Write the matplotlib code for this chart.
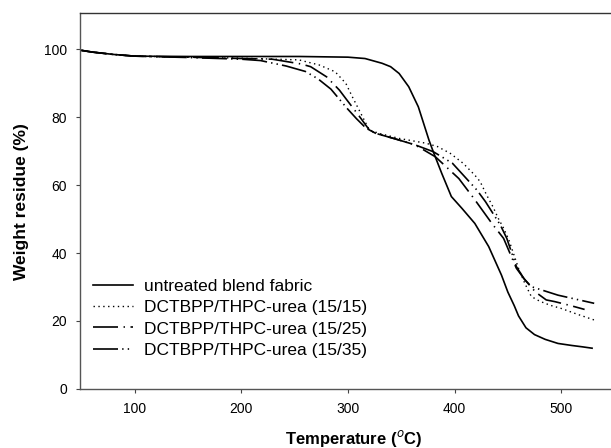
import matplotlib
matplotlib.use('Agg')
import matplotlib.pyplot as plt

plt.rcParams['font.family'] = ['Liberation Sans', 'DejaVu Sans']
plt.rcParams['lines.scale_dashes'] = False

# TGA curves (temperature in C, weight residue in %)
t_untreated = [50, 60, 80, 100, 150, 200, 254, 300, 316, 332, 340, 348, 357, 366, 376,
               380, 388, 397, 407, 419, 432, 444, 450, 456, 460, 467, 475, 485, 497, 510,
               520, 529]
w_untreated = [99.6, 99.1, 98.4, 97.9, 97.8, 97.8, 97.8, 97.6, 97.2, 95.8, 94.8, 92.8, 88.9,
               83.0, 73.2, 69.8, 63.4, 56.6, 53.1, 48.7, 41.9, 33.5, 28.5, 24.5, 21.5, 18.0,
               16.0, 14.6, 13.4, 12.8, 12.4, 12.0]

t_1515 = [50, 60, 80, 100, 150, 200, 254, 273, 288, 298, 304, 312, 320, 329, 348, 373, 384,
          396, 408, 419, 424, 430, 436, 441, 446, 451, 460, 466, 472, 480, 490, 500, 515, 531]
w_1515 = [99.6, 99.1, 98.4, 97.9, 97.6, 97.3, 96.8, 95.3, 93.3, 89.9, 86.0, 81.1, 76.2, 75.2,
          73.7, 72.3, 71.3, 69.3, 66.4, 62.9, 61.0, 57.1, 53.6, 50.2, 47.3, 43.8, 35.5, 31.0,
          27.2, 25.8, 24.6, 23.7, 22.0, 20.3]

t_1525 = [50, 60, 80, 100, 150, 200, 229, 256, 265, 280, 292, 299, 310, 320, 326, 345, 363,
          382, 404, 418, 435, 446, 458, 466, 476, 486, 494, 508, 522]
w_1525 = [99.6, 99.1, 98.4, 97.9, 97.6, 97.2, 97.0, 95.6, 94.8, 91.8, 87.9, 85.0, 80.5, 76.2,
          75.2, 73.5, 71.8, 68.3, 61.9, 56.1, 48.7, 44.3, 35.5, 32.1, 28.5, 26.2, 25.7, 24.6,
          23.4]

t_1535 = [50, 60, 80, 100, 150, 200, 218, 242, 260, 272, 284, 299, 308, 317, 326, 345, 363,
          380, 398, 421, 429, 443, 449, 458, 465, 472, 485, 497, 514, 531]
w_1535 = [99.6, 99.1, 98.4, 97.9, 97.5, 97.0, 96.6, 95.0, 93.4, 91.2, 88.2, 82.6, 79.5, 76.7,
          75.2, 73.5, 71.8, 69.8, 66.4, 58.5, 55.1, 48.2, 44.3, 36.0, 32.5, 30.1, 28.8, 27.6,
          26.4, 25.2]

labels = ['untreated blend fabric', 'DCTBPP/THPC-urea (15/15)',
          'DCTBPP/THPC-urea (15/25)', 'DCTBPP/THPC-urea (15/35)']

fig = plt.figure(figsize=(6.11, 4.48), dpi=100)
ax = fig.add_axes([0.1309, 0.1317, 0.869, 0.8386])

ax.plot(t_untreated, w_untreated, color='black', lw=1.2, label=labels[0])
ax.plot(t_1515, w_1515, color='black', lw=1.0, linestyle=(0, (1, 2.5)), label=labels[1])
ax.plot(t_1525, w_1525, color='black', lw=1.2, linestyle=(0, (18, 4, 1, 4)), label=labels[2])
ax.plot(t_1535, w_1535, color='black', lw=1.2, linestyle=(0, (18, 3, 1, 3, 1, 3)), label=labels[3])

ax.set_xlim(48.6, 546.7)
ax.set_ylim(0, 110.5)
ax.set_xticks([100, 200, 300, 400, 500])
ax.set_yticks([0, 20, 40, 60, 80, 100])
ax.tick_params(direction='out', length=3, width=0.8, labelsize=10, pad=6.5,
               color='#444444')

for side in ['left', 'bottom', 'top']:
    ax.spines[side].set_color('#555555')
    ax.spines[side].set_linewidth(1.0)
ax.spines['top'].set_color('#333333')
ax.spines['right'].set_visible(False)

ax.set_xlabel('Temperature ($^{o}$C)', fontsize=12, fontweight='bold')
ax.set_ylabel('Weight residue (%)', fontsize=12.5, fontweight='bold')
ax.xaxis.set_label_coords(0.516, -0.103)
ax.yaxis.set_label_coords(-0.096, 0.5)

ax.legend(loc='upper left', bbox_to_anchor=(0.0254, 0.293), frameon=False,
          fontsize=12.5, borderpad=0, borderaxespad=0, handlelength=2.3,
          handletextpad=0.6, labelspacing=0.35)

fig.savefig('out.png', dpi=100)
